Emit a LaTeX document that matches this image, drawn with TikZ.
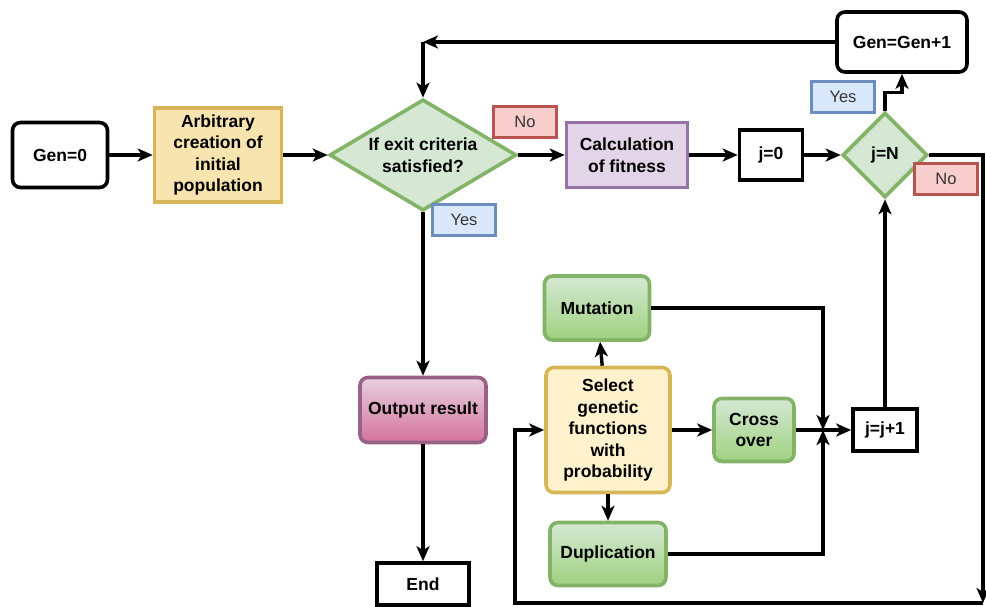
\documentclass[tikz,border=0pt]{standalone}
\usepackage{fontspec}
\setmainfont{Liberation Sans}
\usetikzlibrary{arrows.meta,shapes.geometric}

\definecolor{greenfill}{HTML}{D5E8D4}
\definecolor{greendark}{HTML}{9FD27F}
\definecolor{greenline}{HTML}{82B366}
\definecolor{yellowfill}{HTML}{FFF2CC}
\definecolor{yellowdark}{HTML}{F8E4AE}
\definecolor{yellowline}{HTML}{D6B656}
\definecolor{purplefill}{HTML}{E1D5E7}
\definecolor{purpleline}{HTML}{9673A6}
\definecolor{pinkfill}{HTML}{E6D0DE}
\definecolor{pinkdark}{HTML}{D5739D}
\definecolor{pinkline}{HTML}{996185}
\definecolor{redfill}{HTML}{F8CECC}
\definecolor{redline}{HTML}{B85450}
\definecolor{bluefill}{HTML}{DAE8FC}
\definecolor{blueline}{HTML}{6C8EBF}
\definecolor{textgray}{HTML}{333333}

\begin{document}
\begin{tikzpicture}[
  x=1pt, y=-1pt,
  arrow/.style = {-{Stealth[length=15pt,width=13pt,inset=4pt]}, line width=3.4pt},
  base/.style = {line width=3.6pt, inner sep=0pt, align=center,
    font=\bfseries\fontsize{17.5}{21.5}\selectfont},
  plain/.style = {base, draw=black, fill=white},
  soft/.style = {base, rounded corners=8pt},
  genebox/.style = {soft, draw=greenline, top color=greenfill, bottom color=greendark},
  decision/.style = {base, diamond, draw=greenline, fill=greenfill},
  tag/.style = {inner sep=0pt, line width=3.6pt, minimum width=63pt, minimum height=31pt,
    font=\fontsize{16.5}{19}\selectfont, text=textgray},
  notag/.style = {tag, draw=redline, fill=redfill},
  yestag/.style = {tag, draw=blueline, fill=bluefill}]
  \useasboundingbox (0,0) rectangle (986,606);

  % top row
  \node[plain, rounded corners=8pt, minimum width=95pt, minimum height=65pt] (gen0) at (60,155) {Gen=0};
  \node[base, draw=yellowline, fill=yellowdark, minimum width=127pt, minimum height=94pt] (init) at (218,155)
    {Arbitrary\\creation of\\initial\\population};
  \node[decision, inner sep=-8pt, minimum width=187pt, minimum height=103pt] (test) at (423,155)
    {If exit criteria\\satisfied?};
  \node[base, draw=purpleline, fill=purplefill, minimum width=121pt, minimum height=65pt] (fit) at (627,155)
    {Calculation\\of fitness};
  \node[plain, minimum width=63pt, minimum height=50pt] (jzero) at (771,155) {j=0};
  \node[decision, minimum width=85pt, minimum height=85pt] (jN) at (885,155) {j=N};
  \node[plain, rounded corners=8pt, minimum width=130pt, minimum height=60pt] (gen1) at (902,42) {Gen=Gen+1};

  % exit branch
  \node[soft, draw=pinkline, top color=pinkfill, bottom color=pinkdark, minimum width=126pt, minimum height=65pt]
    (out) at (423,410) {Output result};
  \node[plain, minimum width=92pt, minimum height=42pt] (endn) at (423,584) {End};

  % genetic operators
  \node[soft, draw=yellowline, fill=yellowfill, minimum width=124pt, minimum height=125pt] (sel) at (608,430)
    {Select\\genetic\\functions\\with\\probability};
  \node[genebox, minimum width=105pt, minimum height=64pt] (mut) at (597,308) {Mutation};
  \node[genebox, minimum width=80pt, minimum height=63pt] (cross) at (754,430) {Cross\\over};
  \node[genebox, minimum width=116pt, minimum height=63pt] (dup) at (608,554) {Duplication};
  \node[plain, minimum width=64pt, minimum height=42pt] (jinc) at (885,430) {j=j+1};

  % labels
  \node[notag] (no1) at (525,122) {No};
  \node[yestag] (yes1) at (464,220) {Yes};
  \node[yestag] (yes2) at (843,97) {Yes};
  \node[notag] (no2) at (946,179) {No};

  % bend points
  \coordinate (topc) at (423,42);
  \coordinate (merge) at (823,430);
  \coordinate (rtop) at (983,155);
  \coordinate (rbot) at (983,603);
  \coordinate (lbot) at (515,603);
  \coordinate (lsel) at (515,430);

  % main flow
  \draw[arrow] (gen0) -- (init);
  \draw[arrow] (init) -- (test);
  \draw[arrow] (test) -- (fit);
  \draw[arrow] (fit) -- (jzero);
  \draw[arrow] (jzero) -- (jN);
  \draw[arrow] (jN.north) -- ++(0,-18) -| (gen1.south);
  \draw[arrow] (gen1.west) -- (topc);
  \draw[arrow] (topc) -- (test.north);
  \draw[arrow] (test.south) -- (out.north);
  \draw[arrow] (out.south) -- (endn.north);

  % operators
  \draw[arrow] (sel) -- (mut);
  \draw[arrow] (sel) -- (dup);
  \draw[arrow] (sel) -- (cross);
  \draw[arrow] (mut.east) -| (merge);
  \draw[arrow] (dup.east) -| (merge);
  \draw[arrow] (cross) -- (jinc);
  \draw[arrow] (jinc) -- (jN.south);

  % loop back
  \draw[arrow] (jN.east) -- (rtop) -- (rbot);
  \draw[arrow] (rbot) -- (lbot) -- (lsel) -- (sel.west);
\end{tikzpicture}
\end{document}
